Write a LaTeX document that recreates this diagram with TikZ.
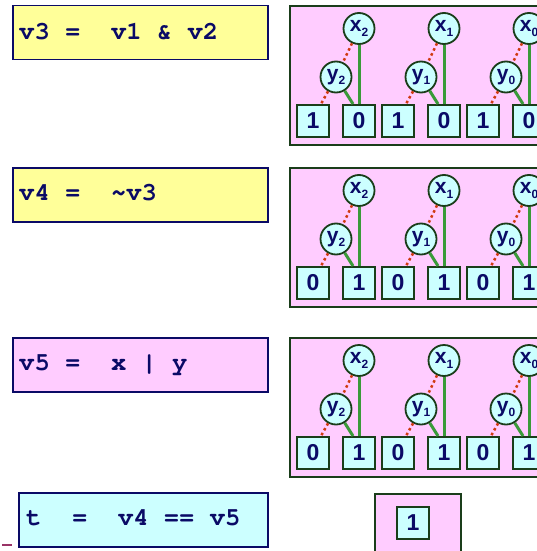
\documentclass[tikz,border=0pt]{standalone}
\usepackage[T1]{fontenc}
\usepackage{fontspec}
\setmainfont{Liberation Sans}
\newcommand{\codefont}{\fontencoding{T1}\fontfamily{pcr}\fontseries{b}\selectfont}
\usepackage{tikz}
\usetikzlibrary{calc,positioning}

\definecolor{bitPink}{HTML}{FFCCFF}
\definecolor{bitYellow}{HTML}{FFFF99}
\definecolor{bitCyan}{HTML}{CCFFFF}
\definecolor{codeNavy}{HTML}{0A0A66}
\definecolor{frameGreen}{HTML}{1A3D1A}
\definecolor{edgeGreen}{HTML}{3A9A3A}
\definecolor{edgeRed}{HTML}{D03A10}
\definecolor{markMaroon}{HTML}{993366}

\tikzstyle{tsCode} = [ 
    text=codeNavy, 
    font=\codefont\fontsize{25.5}{25.5}\selectfont,
    anchor=base west,
    inner sep=0pt
]
\tikzstyle{tsCodeBox} = [ 
    rectangle,
    draw=codeNavy,
    line width=1.5pt,
    minimum height=54pt,
    anchor=north west
]
\tikzstyle{tsFrame} = [ 
    rectangle,
    draw=frameGreen,
    fill=bitPink,
    line width=2pt,
    anchor=north west
]
\tikzstyle{tsVar} = [ 
    circle,
    draw=frameGreen,
    fill=bitCyan,
    line width=1.8pt,
    minimum size=31pt,
    inner sep=0pt,
    text=codeNavy,
    font=\bfseries\fontsize{21}{21}\selectfont
]
\tikzstyle{tsBit} = [ 
    rectangle,
    draw=frameGreen,
    fill=bitCyan,
    line width=2pt,
    minimum size=32pt,
    inner sep=0pt,
    text=codeNavy,
    font=\bfseries\fontsize{23}{23}\selectfont
]
\tikzstyle{tsHigh} = [draw=edgeGreen, line width=3pt]
\tikzstyle{tsLow} = [draw=edgeRed, line width=2.5pt, dash pattern=on 2.5pt off 3pt]

\newcommand{\varsub}[2]{#1\raisebox{-0.4ex}{\fontsize{12}{12}\selectfont #2}}

\begin{document}
\begin{tikzpicture}[x=1pt, y=1pt]

        \useasboundingbox (0,0) rectangle (537,-551);

        % code lines on the left
        \node[tsCodeBox, fill=bitYellow, minimum width=255pt] (codeA) at (12,-5) { };
        \node[tsCode] (textA) at (19,-40) {v3~=~~v1~\&~v2};

        \node[tsCodeBox, fill=bitYellow, minimum width=255pt] (codeB) at (12,-167) { };
        \node[tsCode] (textB) at (19,-200) {v4~=~~\textasciitilde v3};

        \node[tsCodeBox, fill=bitPink, minimum width=255pt] (codeC) at (12,-337) { };
        \node[tsCode] (textC) at (19,-370) {v5~=~~x~|~y};

        \node[tsCodeBox, fill=bitCyan, minimum width=249pt] (codeD) at (18,-492) { };
        \node[tsCode] (textD) at (26,-525) {t~~=~~v4~==~v5};

        \draw[markMaroon, line width=2pt] (2,-545) -- (12,-545);

        % bdd pictures on the right
        \foreach \row/\top/\lo/\hi in {A/5/1/0, B/167/0/1, C/337/0/1} {
            \node[tsFrame, minimum width=280pt, minimum height=139pt] (frame\row) at (289,-\top) { };
            \foreach \g/\i in {0/2, 1/1, 2/0} {
                \node[tsVar] (x\row\i) at ({359+85*\g},{-\top-23.5}) {\varsub{x}{\i}};
                \node[tsVar] (y\row\i) at ({336+85*\g},{-\top-72}) {\varsub{y}{\i}};
                \node[tsBit] (lo\row\i) at ({313+85*\g},{-\top-116}) {\lo};
                \node[tsBit] (hi\row\i) at ({359+85*\g},{-\top-116}) {\hi};

                \draw[tsLow] (x\row\i) -- (y\row\i);
                \draw[tsLow] (y\row\i) -- ($(lo\row\i.north)+(8,0)$);
                \draw[tsHigh] (x\row\i) -- (hi\row\i.north);
                \draw[tsHigh] (y\row\i) -- ($(hi\row\i.north)+(-6,0)$);
            }
        }

        % result
        \node[tsFrame, minimum width=86pt, minimum height=80pt] (frameD) at (374,-493) { };
        \node[tsBit] (bitD) at (413,-523) {1};

\end{tikzpicture}
\end{document}
